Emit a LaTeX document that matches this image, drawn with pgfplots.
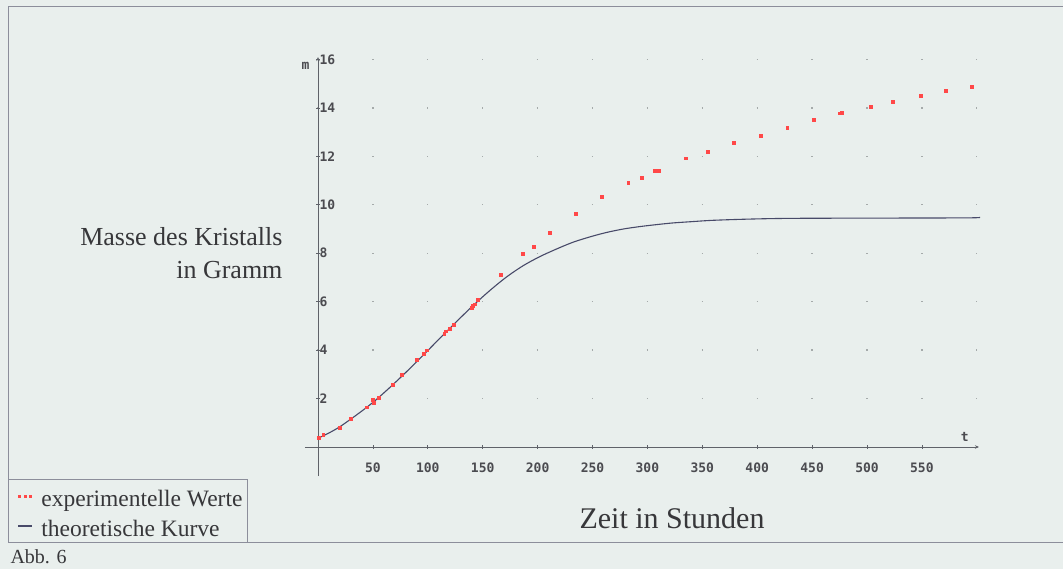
\documentclass[border=0pt]{standalone}
\usepackage{pgfplots}
\pgfplotsset{compat=1.18}
\usepackage{fontspec}
\setmainfont{Liberation Serif}
\newfontfamily\monofont{DejaVu Sans Mono}
\usetikzlibrary{arrows.meta}
\definecolor{bgcol}{RGB}{233,239,237}
\definecolor{framecol}{RGB}{140,142,155}
\definecolor{axiscol}{RGB}{95,98,105}
\definecolor{gridcol}{RGB}{165,170,170}
\definecolor{curvecol}{RGB}{72,74,105}
\definecolor{redcol}{RGB}{255,72,72}
\definecolor{textcol}{RGB}{55,55,58}
\definecolor{tickcol}{RGB}{75,75,80}
\begin{document}
\begin{tikzpicture}
\useasboundingbox (0,0) rectangle (1063bp,569bp);
\fill[bgcol] (0,0) rectangle (1063bp,569bp);
\draw[framecol, line width=1bp] (1063bp,562bp) -- (8bp,562bp) -- (8bp,26bp) -- (1063bp,26bp);
\begin{axis}[
  at={(318bp,122bp)}, anchor=origin,
  x=1.098bp, y=24.22bp,
  xmin=-12, xmax=602, ymin=-1.2, ymax=16.1,
  axis lines=middle,
  axis line style={draw=axiscol, line width=0.9bp, -{Stealth[length=4bp,width=3.5bp]}},
  xtick={50,100,...,550},
  ytick={2,4,...,16},
  tick align=center,
  major tick length=4bp,
  tick style={draw=axiscol, line width=0.8bp},
  /pgf/number format/assume math mode=true,
  ticklabel style={font=\monofont\bfseries\fontsize{13bp}{13bp}\selectfont, text=tickcol},
  xticklabel style={anchor=north, yshift=-10bp},
  yticklabel style={anchor=west, xshift=0bp},
  ymajorgrids,
  major grid style={draw=gridcol, line width=1.3bp, dash pattern=on 1.3bp off 53.6bp, dash phase=42.37bp},
  clip=false,
  reverse legend,
  legend cell align=left,
  legend style={at={(-0.4402,-0.1597)}, anchor=south west, draw=framecol, line width=0.8bp, fill=none,
    font=\fontsize{23.5bp}{28bp}\selectfont, text=textcol, inner xsep=1bp, inner ysep=1.5bp,
    nodes={inner xsep=4bp, inner ysep=3.5bp, text height=21.5bp, text depth=1.5bp}},
]
\addplot[curvecol, line width=1.1bp, smooth,
  legend image code/.code={\path[draw=none, fill=none] (-9bp,-0.5bp) rectangle (19bp,0.5bp); \draw[curvecol, line width=2.6bp] (0bp,0bp) -- (14bp,0bp);}]
coordinates {
(0,0.36) (10,0.58) (20,0.84) (35,1.32) (50,1.84) (65,2.44) (80,3.08) (96,3.80) (111,4.49)
(126,5.17) (141,5.83) (157,6.48) (172,7.03) (187,7.49) (202,7.86) (217,8.17) (232,8.45)
(248,8.68) (263,8.86) (278,9.00) (293,9.10) (308,9.18) (323,9.25) (339,9.30) (360,9.36)
(393,9.41) (430,9.44) (500,9.45) (590,9.46) (603,9.48)
};
\addlegendentry{theoretische Kurve}
\addplot[only marks, mark=square*, mark size=1.4bp, draw=redcol, fill=redcol,
  legend image code/.code={
    \path[draw=none, fill=none] (-9bp,-0.5bp) rectangle (19bp,0.5bp);
    \fill[redcol] (0bp,-1bp) rectangle (2bp,1bp);
    \fill[redcol] (5.5bp,-1bp) rectangle (7.5bp,1bp);
    \fill[redcol] (11bp,-1bp) rectangle (13bp,1bp);}]
coordinates {
(0.3,0.40) (4.8,0.50) (19.4,0.81) (30,1.16) (44.3,1.64) (49.8,1.94) (50.5,1.84) (55,2.05)
(67.7,2.56) (76.2,2.98) (89.9,3.59) (96.5,3.84) (99,4.00) (115,4.69) (116,4.78) (119.6,4.87)
(123.9,5.04) (140,5.74) (140.9,5.82) (142.4,5.90) (145.4,6.07) (166.7,7.10) (186.7,7.97)
(196.4,8.26) (210.7,8.85) (234.7,9.63) (258.7,10.35) (282.6,10.91) (295,11.13) (306.9,11.42)
(310.6,11.42) (334.7,11.92) (354.9,12.19) (378.9,12.58) (403.2,12.84) (427.4,13.17)
(451.1,13.50) (475.4,13.78) (477,13.80) (503.3,14.04) (523.4,14.27) (549.2,14.52)
(571.7,14.70) (595.3,14.89)
};
\addlegendentry{experimentelle Werte}
\node[font=\monofont\bfseries\fontsize{13bp}{13bp}\selectfont, text=tickcol] at (axis cs:589,0.41) {t};
\node[font=\monofont\bfseries\fontsize{13bp}{13bp}\selectfont, text=tickcol] at (axis cs:-11.3,15.73) {m};
\end{axis}
\node[anchor=east, align=right, font=\fontsize{26bp}{33bp}\selectfont, text=textcol] at (286bp,316bp) {Masse des Kristalls\\in Gramm};
\node[font=\fontsize{30bp}{34bp}\selectfont, text=textcol] at (672bp,51bp) {Zeit in Stunden};
\node[anchor=west, font=\fontsize{20bp}{24bp}\selectfont, text=textcol] at (7bp,12bp) {Abb. 6};
\end{tikzpicture}
\end{document}
